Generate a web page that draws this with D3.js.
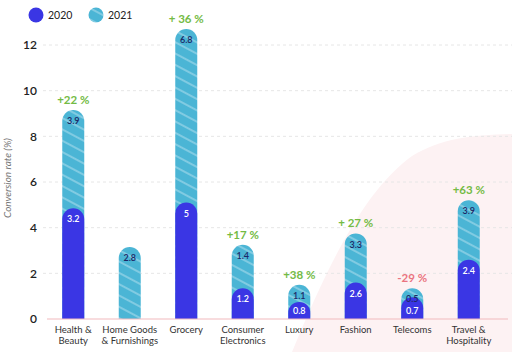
<!DOCTYPE html>
<html>
<head>
<meta charset="utf-8">
<script src="https://cdn.jsdelivr.net/npm/d3@7"></script>
<style>
  body { margin: 0; background: #fff; }
  svg { display: block; font-family: "Lato", "Noto Sans", sans-serif; }
</style>
</head>
<body>
<div id="graph"></div>
<script>
// chart data
const categories = ["Health & Beauty", "Home Goods & Furnishings", "Grocery", "Consumer Electronics",
    "Luxury", "Fashion", "Telecoms", "Travel & Hospitality"];
const catLines = [["Health &", "Beauty"], ["Home Goods", "& Furnishings"], ["Grocery"], ["Consumer", "Electronics"],
    ["Luxury"], ["Fashion"], ["Telecoms"], ["Travel &", "Hospitality"]];
// printed values
const labels2020 = [3.2, null, 5, 1.2, 0.8, 2.6, 0.7, 2.4];
const labels2021 = [3.9, 2.8, 6.8, 1.4, 1.1, 3.3, 0.5, 3.9];
// drawn bar heights (as they appear on the axis)
const bar2020 = [4.85, null, 5.1, 1.35, 0.75, 1.6, 0.95, 2.6];
const bar2021 = [9.15, 3.15, 12.7, 3.25, 1.5, 3.75, 1.35, 5.2];
const changes = ["+22 %", null, "+ 36 %", "+17 %", "+38 %", "+ 27 %", "-29 %", "+63 %"];
const yTicks = [0, 2, 4, 6, 8, 10, 12];

const width = 512, height = 352;
const c2020 = "#3a36e4", c2021 = "#4bb5d5";

let svg = d3.select("#graph")
    .append("svg")
    .attr("width", width)
    .attr("height", height);

// hatch pattern for 2021
let defs = svg.append("defs");
let pat = defs.append("pattern")
    .attr("id", "hatch")
    .attr("patternUnits", "userSpaceOnUse")
    .attr("width", 10)
    .attr("height", 10)
    .attr("patternTransform", "rotate(28)");
pat.append("rect").attr("width", 10).attr("height", 10).attr("fill", c2021);
pat.append("line")
    .attr("x1", 0).attr("x2", 10).attr("y1", 5).attr("y2", 5)
    .attr("stroke", "#ffffff").attr("stroke-opacity", 0.55).attr("stroke-width", 1.1);

// pink background blob
svg.append("path")
    .attr("d", "M292,352 C330,260 365,190 412,156 C442,138 472,135 512,134 L512,352 Z")
    .attr("fill", "#fdf2f3");

let x = d3.scaleBand()
    .domain(categories)
    .range([45, 497]);

let y = d3.scaleLinear()
    .domain([0, 12])
    .range([319, 45]);

// grid
svg.append("g")
    .selectAll("line")
    .data(yTicks.slice(1))
    .join("line")
    .attr("x1", 43).attr("x2", 512)
    .attr("y1", d => y(d)).attr("y2", d => y(d))
    .attr("stroke", "#e6e6e6")
    .attr("stroke-dasharray", "3,3");

// y tick labels
svg.append("g")
    .selectAll("text")
    .data(yTicks)
    .join("text")
    .attr("x", 37)
    .attr("y", d => y(d))
    .attr("dy", "0.36em")
    .attr("text-anchor", "end")
    .attr("font-size", "12px")
    .attr("font-weight", "600")
    .attr("fill", "#222")
    .text(d => d);

svg.append("text")
    .attr("transform", "translate(11," + 178 + ") rotate(-90)")
    .attr("text-anchor", "middle")
    .attr("font-size", "10px")
    .attr("font-style", "italic")
    .attr("fill", "#777")
    .text("Conversion rate (%)");

const bw = 22, r = bw / 2;
const cx = (i) => x(categories[i]) + x.bandwidth() / 2;

// rounded-top bar path
const capBar = (i, v) => {
    let x0 = cx(i) - r, x1 = cx(i) + r;
    let top = y(v), base = y(0);
    return "M" + x0 + "," + base + " L" + x0 + "," + (top + r) +
        " A" + r + "," + r + " 0 0 1 " + x1 + "," + (top + r) +
        " L" + x1 + "," + base + " Z";
};

let bars = svg.append("g");
categories.forEach((c, i) => {
    bars.append("path").attr("d", capBar(i, bar2021[i])).attr("fill", "url(#hatch)");
    if (bar2020[i] != null) {
        bars.append("path").attr("d", capBar(i, bar2020[i])).attr("fill", c2020);
    }
});

// baseline
svg.append("line")
    .attr("x1", 47).attr("x2", 508)
    .attr("y1", y(0)).attr("y2", y(0))
    .attr("stroke", "#f2b9bd")
    .attr("stroke-width", 1.2);

// value labels
categories.forEach((c, i) => {
    svg.append("text")
        .attr("x", cx(i))
        .attr("y", y(bar2021[i]) + 11)
        .attr("dy", "0.35em")
        .attr("text-anchor", "middle")
        .attr("font-size", "9px")
        .attr("font-weight", "600")
        .attr("fill", "#1d2766")
        .text(labels2021[i]);
    if (labels2020[i] != null) {
        // short bars keep their label near the baseline
        let short = y(0) - y(bar2020[i]) < 30;
        svg.append("text")
            .attr("x", cx(i))
            .attr("y", short ? y(0) - 8 : y(bar2020[i]) + 11)
            .attr("dy", "0.35em")
            .attr("text-anchor", "middle")
            .attr("font-size", "9px")
            .attr("font-weight", "600")
            .attr("fill", "#ffffff")
            .text(labels2020[i]);
    }
    if (changes[i] != null) {
        svg.append("text")
            .attr("x", cx(i))
            .attr("y", y(bar2021[i]) - 10)
            .attr("dy", "0.35em")
            .attr("text-anchor", "middle")
            .attr("font-size", "11.5px")
            .attr("font-weight", "700")
            .attr("fill", changes[i][0] === "-" ? "#ea7480" : "#74bb45")
            .text(changes[i]);
    }
    let t = svg.append("text")
        .attr("x", cx(i))
        .attr("y", 333)
        .attr("text-anchor", "middle")
        .attr("font-size", "9.5px")
        .attr("fill", "#333");
    catLines[i].forEach((l, k) => {
        t.append("tspan").attr("x", cx(i)).attr("dy", k === 0 ? 0 : 11).text(l);
    });
});

// legend
let legend = svg.append("g");
legend.append("circle").attr("cx", 36).attr("cy", 15).attr("r", 7.5).attr("fill", c2020);
legend.append("text").attr("x", 48).attr("y", 15).attr("dy", "0.35em")
    .attr("font-size", "10.5px").attr("fill", "#222").text("2020");
legend.append("circle").attr("cx", 96).attr("cy", 15).attr("r", 7.5).attr("fill", "url(#hatch)");
legend.append("text").attr("x", 108).attr("y", 15).attr("dy", "0.35em")
    .attr("font-size", "10.5px").attr("fill", "#222").text("2021");
</script>
</body>
</html>
